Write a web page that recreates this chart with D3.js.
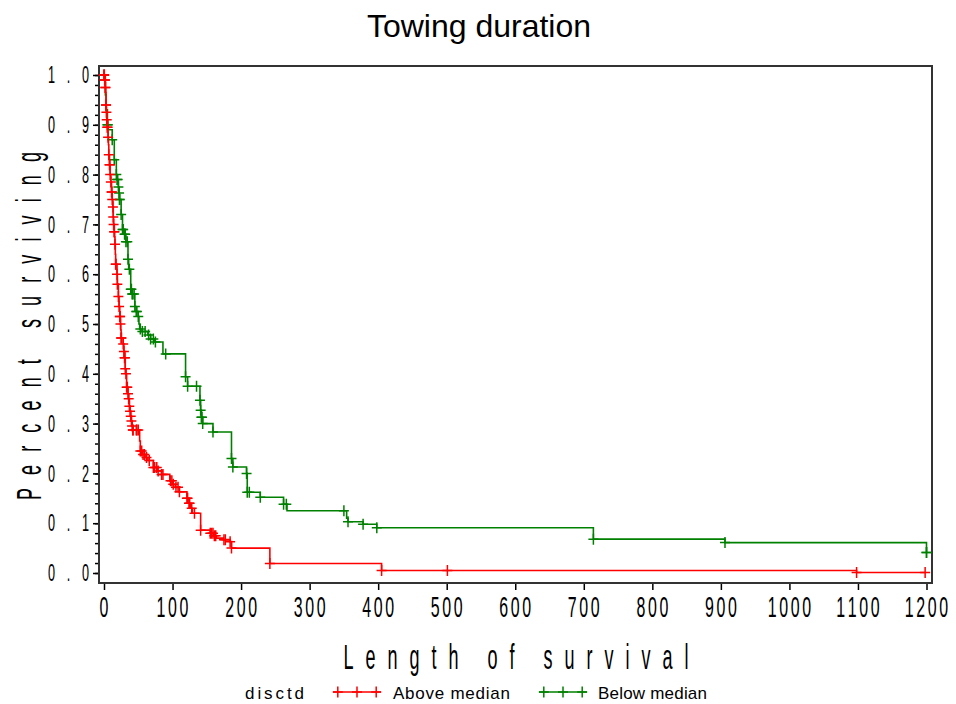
<!DOCTYPE html>
<html>
<head>
<meta charset="utf-8">
<title>Towing duration</title>
<script src="https://d3js.org/d3.v7.min.js"></script>
<style>
  body { margin: 0; background: #fff; }
  svg text { font-family: "Liberation Sans", Arial, sans-serif; fill: #000; }
</style>
</head>
<body>
<div id="chart"></div>
<script>
// Kaplan-Meier steps: [time, survival after the drop]
var aboveSteps = [
  [0, 1.0], [1, 0.99], [2, 0.975], [2.5, 0.965], [3, 0.94], [3.5, 0.925], [4, 0.91], [5, 0.895],
  [6, 0.875], [6.5, 0.86], [7, 0.84], [8, 0.82], [9, 0.80], [10, 0.785], [11, 0.765], [12, 0.75],
  [13, 0.735], [13.5, 0.715], [14, 0.70], [15, 0.685], [15.5, 0.675], [16, 0.66], [16.5, 0.64],
  [17, 0.62], [19, 0.60], [19.5, 0.58], [21, 0.555], [22, 0.535], [23, 0.515], [24, 0.50],
  [24.5, 0.488], [25, 0.472], [28, 0.46], [29, 0.445], [30, 0.432], [31, 0.41], [32, 0.40],
  [33, 0.373], [35, 0.36], [36, 0.35], [37, 0.335], [38, 0.325], [39, 0.315], [40, 0.305],
  [41, 0.295], [42, 0.287], [52, 0.265], [53, 0.245], [56, 0.238], [60, 0.232], [64, 0.226],
  [72, 0.212], [78, 0.205], [84, 0.198], [96, 0.185], [100, 0.178], [104, 0.172], [110, 0.163],
  [121, 0.15], [124, 0.14], [126, 0.13], [129, 0.12], [141, 0.086], [155, 0.08], [160, 0.075],
  [164, 0.07], [174, 0.067], [184, 0.063], [186, 0.05], [242, 0.019], [405, 0.005], [1098, 0.001]
];
var aboveCensored = [
  0, 0, 0.5, 1, 1.5, 2, 2, 3, 3, 3.5, 4, 5, 5, 6, 7, 8, 8.5, 9, 10, 11, 11.5, 12, 13, 13.5, 14,
  15, 15, 16, 17, 17.5, 19, 19.5, 21, 22, 23, 23.5, 24, 25, 25.5, 28, 29, 30, 30.5, 31, 32, 33,
  34, 35, 36, 37, 38, 39, 40, 41, 42, 42.5, 47, 48, 50, 53, 55, 57, 59, 62, 66, 72, 74, 77, 79,
  84, 86, 97, 99, 101, 105, 108, 110, 121, 122, 124, 125, 128, 132, 141, 155, 157, 159, 161, 163,
  175, 177, 184, 186, 242, 405, 501, 1098, 1198
];

var belowSteps = [
  [0, 1.0], [2, 0.96], [3, 0.93], [5, 0.9], [6, 0.89], [12, 0.87], [15, 0.83], [18, 0.80],
  [19, 0.79], [21, 0.775], [22, 0.763], [22.5, 0.75], [25, 0.72], [27, 0.69], [30, 0.68],
  [32, 0.665], [35, 0.63], [36, 0.61], [39, 0.57], [41, 0.56], [45, 0.535], [47, 0.525],
  [50, 0.515], [51, 0.50], [52, 0.49], [54, 0.485], [64, 0.478], [68, 0.47], [74, 0.464],
  [86, 0.44], [119, 0.394], [122, 0.375], [140, 0.347], [141, 0.327], [142, 0.313], [144, 0.30],
  [159, 0.283], [186, 0.23], [188, 0.213], [208, 0.20], [209, 0.162], [228, 0.152], [262, 0.138],
  [267, 0.125], [354, 0.11], [356, 0.103], [378, 0.098], [398, 0.091], [714, 0.068], [906, 0.061],
  [1200, 0.041]
];
var belowCensored = [
  5, 5.5, 12, 15, 18, 19, 20, 21, 22, 22.5, 23, 25, 27, 28, 30, 31, 32, 34, 35, 37, 39,
  40, 41, 42, 44, 45, 47, 48, 50, 53, 56, 60, 65, 68, 72, 75, 90, 119, 122, 135, 140, 141, 142,
  143, 144, 159, 186, 188, 208, 209, 212, 228, 262, 266, 350, 356, 378, 398, 714, 906, 1200, 1200
];

var xTicks = d3.range(0, 1201, 100);
var yTicks = d3.range(0, 11).map(function (i) { return i / 10; });
var yMinor = d3.range(0, 51).map(function (i) { return i / 50; });

// green drawn first so red sits on top, as in the source
var groups = [
  { name: "Below median", steps: belowSteps, cens: belowCensored, color: "#008000" },
  { name: "Above median", steps: aboveSteps, cens: aboveCensored, color: "#ff0000" }
];

var W = 956, H = 704;
var svg = d3.select("#chart").append("svg").attr("width", W).attr("height", H);

var x = d3.scaleLinear().domain([0, 1200]).range([104, 926.5]);
var y = d3.scaleLinear().domain([0, 1]).range([573, 75]);

var frame = { left: 99, right: 932, top: 66, bottom: 583 };

// fixed-pitch condensed characters, like the SAS stroke font
function pitched(g, str, cx, cy, pitch, sx, size) {
  var chars = str.split("");
  var start = cx - pitch * (chars.length - 1) / 2;
  chars.forEach(function (c, i) {
    g.append("text")
      .attr("transform", "translate(" + (start + i * pitch) + "," + cy + ") scale(" + sx + ",1)")
      .attr("text-anchor", "middle")
      .attr("dy", "0.36em")
      .style("font-size", size + "px")
      .text(c);
  });
}

// long condensed label stretched to a given width
function stretched(g, str, opt) {
  g.append("text")
    .attr("transform", "translate(" + opt.x + "," + opt.y + ")" +
      (opt.rotate ? " rotate(" + opt.rotate + ")" : "") +
      " translate(" + (-opt.width / 2) + ",0) scale(" + opt.sx + ",1)")
    .attr("dy", "0.36em")
    .style("font-size", opt.size + "px")
    .attr("textLength", opt.width / opt.sx)
    .attr("lengthAdjust", "spacing")
    .text(str);
}

// title
svg.append("text")
  .attr("x", 479).attr("y", 37)
  .attr("text-anchor", "middle")
  .style("font-size", "32px")
  .text("Towing duration");

// axes
svg.append("g")
  .attr("transform", "translate(" + frame.left + ",0)")
  .call(d3.axisLeft(y).tickValues(yMinor).tickSize(4).tickFormat(""))
  .call(function (g) { g.select(".domain").remove(); });
svg.append("g")
  .attr("transform", "translate(" + frame.left + ",0)")
  .call(d3.axisLeft(y).tickValues(yTicks).tickSize(6).tickFormat(""))
  .call(function (g) { g.select(".domain").remove(); });
svg.append("g")
  .attr("transform", "translate(0," + frame.bottom + ")")
  .call(d3.axisBottom(x).tickValues(xTicks).tickSize(7).tickFormat(""))
  .call(function (g) { g.select(".domain").remove(); });
svg.selectAll(".tick line").attr("stroke", "#000").attr("stroke-width", 1.5);

svg.append("rect")
  .attr("x", frame.left).attr("y", frame.top)
  .attr("width", frame.right - frame.left).attr("height", frame.bottom - frame.top)
  .attr("fill", "none").attr("stroke", "#333").attr("stroke-width", 2);

var labels = svg.append("g");
yTicks.forEach(function (v) {
  pitched(labels, v.toFixed(1), 68.5, y(v), 17, 0.55, 23);
});
xTicks.forEach(function (v) {
  pitched(labels, String(v), x(v), 607, 11.5, 0.55, 29);
});

stretched(labels, "Length of survival", { x: 516, y: 656, sx: 0.5, size: 36, width: 345 });
stretched(labels, "Percent surviving", { x: 28, y: 326, rotate: -90, sx: 0.5, size: 36, width: 348 });

// curves
var line = d3.line()
  .curve(d3.curveStepAfter)
  .x(function (d) { return x(d[0]); })
  .y(function (d) { return y(d[1]); });

function levelAt(steps, t) {
  var s = steps[0][1];
  steps.forEach(function (d) { if (d[0] <= t) s = d[1]; });
  return s;
}

var plus = "M-5,0H5M0,-5.5V5.5";

groups.forEach(function (grp) {
  var last = d3.max(grp.cens);
  var pts = grp.steps.slice();
  if (pts[pts.length - 1][0] < last) pts.push([last, pts[pts.length - 1][1]]);
  svg.append("path")
    .attr("d", line(pts))
    .attr("fill", "none")
    .attr("stroke", grp.color)
    .attr("stroke-width", 1.6);
  svg.append("g").selectAll("path")
    .data(grp.cens)
    .join("path")
    .attr("transform", function (t) { return "translate(" + x(t) + "," + y(levelAt(grp.steps, t)) + ")"; })
    .attr("d", plus)
    .attr("fill", "none")
    .attr("stroke", grp.color)
    .attr("stroke-width", 1.5);
});

// legend
var leg = svg.append("g");
leg.append("text").attr("x", 245).attr("y", 699)
  .style("font-size", "17px").attr("textLength", 59).attr("lengthAdjust", "spacing")
  .text("disctd");
var legPos = { "Above median": { x0: 333, tx: 393, tw: 117 }, "Below median": { x0: 539, tx: 598, tw: 109 } };
groups.forEach(function (grp) {
  var p = legPos[grp.name];
  var lx = d3.scaleLinear().domain([0, 1]).range([p.x0, p.x0 + 48]);
  leg.append("line")
    .attr("x1", lx(0)).attr("x2", lx(1))
    .attr("y1", 692).attr("y2", 692)
    .attr("stroke", grp.color).attr("stroke-width", 1.6);
  leg.selectAll(null)
    .data([0.1, 0.5, 0.9])
    .join("path")
    .attr("transform", function (f) { return "translate(" + lx(f) + ",692)"; })
    .attr("d", plus)
    .attr("stroke", grp.color).attr("stroke-width", 1.5);
  leg.append("text").attr("x", p.tx).attr("y", 699)
    .style("font-size", "17px").attr("textLength", p.tw).attr("lengthAdjust", "spacing")
    .text(grp.name);
});
</script>
</body>
</html>
